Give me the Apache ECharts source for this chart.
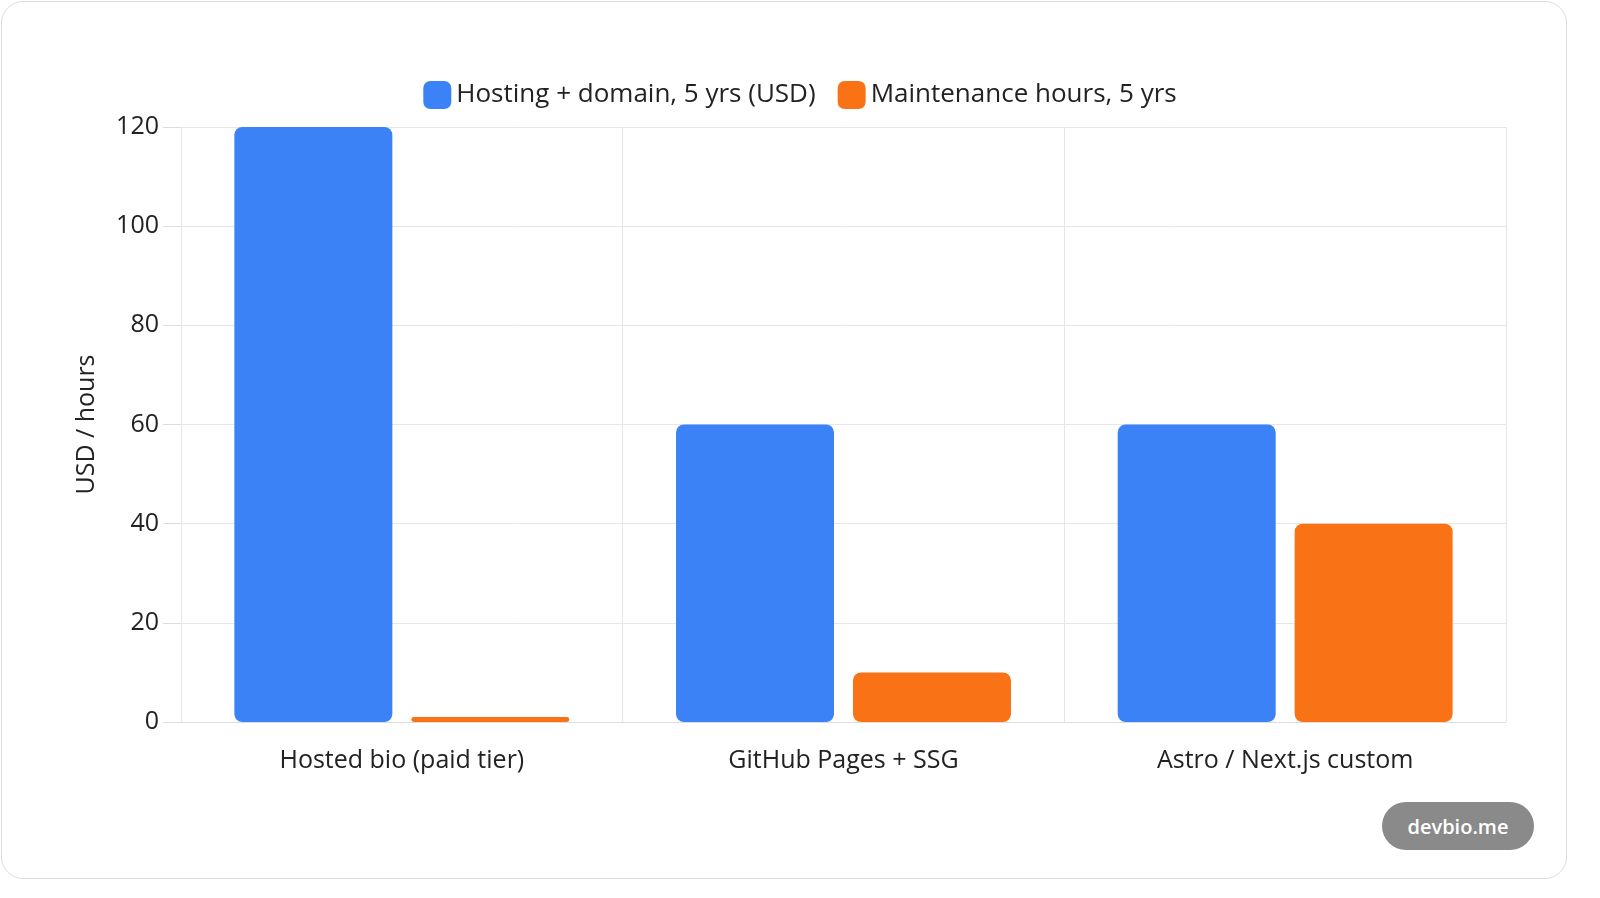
<!DOCTYPE html>
<html><head><meta charset="utf-8">
<script src="https://cdn.jsdelivr.net/npm/echarts@6/dist/echarts.min.js"></script>
<style>
html,body{margin:0;padding:0;background:#fff;width:1600px;height:898px;overflow:hidden}
#card{position:absolute;left:1px;top:1px;width:1564px;height:876px;border:1px solid #ddd;border-radius:22px;background:#fff}
#c{position:absolute;left:0;top:0;width:1600px;height:898px}
#wm{position:absolute;left:1382px;top:802px;width:152px;height:48px;border-radius:24px;background:#8a8a8a;color:#fff;font:600 20px "Open Sans",sans-serif;display:flex;align-items:center;justify-content:center}
</style></head><body>
<div id="card"></div>
<div id="c"></div>
<div id="wm">devbio.me</div>
<script>
const categories = ["Hosted bio (paid tier)", "GitHub Pages + SSG", "Astro / Next.js custom"];
const hostingUSD = [120, 60, 60];
const maintenanceHours = [1, 10, 40];
const seriesNames = ["Hosting + domain, 5 yrs (USD)", "Maintenance hours, 5 yrs"];
const font = "'Open Sans', 'Noto Sans', sans-serif";
const chart = echarts.init(document.getElementById('c'));
chart.setOption({
  animation: false,
  textStyle: {fontFamily: font},
  legend: {top: 76, left: 'center', itemWidth: 28, itemHeight: 28, itemGap: 22,
    textStyle: {fontSize: 26, color: '#222', fontFamily: font}},
  grid: {left: 181, right: 94, top: 127, bottom: 176},
  xAxis: {type: 'category', data: categories,
    axisLine: {lineStyle: {color: '#ddd'}}, axisTick: {length: 16, lineStyle: {color: '#ddd'}},
    splitLine: {show: true, lineStyle: {color: '#e6e6e6'}},
    axisLabel: {fontSize: 25, color: '#222', margin: 26, fontFamily: font}},
  yAxis: {type: 'value', min: 0, max: 120, interval: 20,
    name: 'USD / hours', nameLocation: 'middle', nameGap: 82, nameRotate: 90,
    nameTextStyle: {fontSize: 25, color: '#222', fontFamily: font},
    axisLine: {show: false}, axisTick: {show: true, length: 18, lineStyle: {color: '#ddd'}},
    splitLine: {lineStyle: {color: '#e6e6e6'}},
    axisLabel: {fontSize: 25, color: '#222', margin: 22, fontFamily: font}},
  series: [
    {name: seriesNames[0], type: 'bar', data: hostingUSD, barWidth: 158, barGap: '12%',
     itemStyle: {color: '#3b82f6', borderRadius: 8}},
    {name: seriesNames[1], type: 'bar', data: maintenanceHours, barWidth: 158,
     itemStyle: {color: '#f97316', borderRadius: 8}}
  ]
});
</script></body></html>
